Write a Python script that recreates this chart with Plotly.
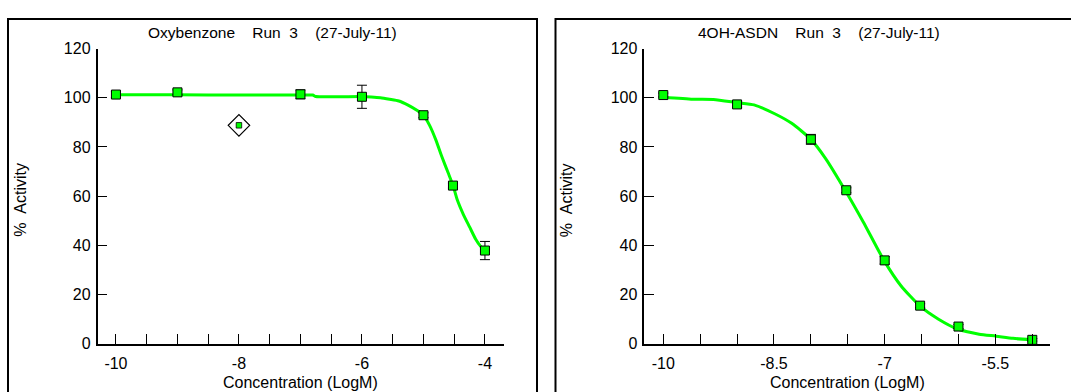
import plotly.graph_objects as go

# ---- Oxybenzone, Run 3 ----
oxy_x = [-10, -9, -7, -6, -5, -4.52, -4]
oxy_y = [101.3, 102.2, 101.4, 100.4, 92.9, 64.3, 37.9]
oxy_err = [1.2, 1.0, 1.8, 4.7, 1.0, 1.0, 3.7]
oxy_excl_x = [-8]
oxy_excl_y = [88.8]
oxy_fit_x = [-10, -9, -8, -7, -6.8, -6.75, -6.0, -5.85, -5.7, -5.55, -5.4, -5.25,
             -5.1, -5.0, -4.9, -4.8, -4.7, -4.6, -4.52, -4.45, -4.35, -4.25,
             -4.15, -4.07, -4.0]
oxy_fit_y = [101.2, 101.2, 101.1, 101.1, 101.1, 100.5, 100.5, 100.3, 100.0, 99.4,
             98.7, 97.0, 94.8, 92.9, 88.8, 83.0, 76.0, 69.6, 64.4, 58.5, 52.5,
             47.5, 42.5, 39.6, 38.0]
oxy_tickvals = [-10, -9.5, -9, -8.5, -8, -7.5, -7, -6.5, -6, -5.5, -5, -4.5, -4]
oxy_ticktext = ["-10", "", "", "", "-8", "", "", "", "-6", "", "", "", "-4"]

# ---- 4OH-ASDN, Run 3 ----
asdn_x = [-10, -9, -8, -7.52, -7, -6.52, -6, -5]
asdn_y = [101.1, 97.3, 83.1, 62.4, 33.9, 15.5, 7.0, 1.6]
asdn_err = [0.8, 1.2, 2.0, 1.0, 1.5, 0.8, 0.8, 0.5]
asdn_fit_x = [-10, -9.6, -9.32, -9.0, -8.77, -8.49, -8.26, -8.0, -7.8, -7.52,
              -7.29, -7.01, -6.78, -6.52, -6.27, -6.02, -5.72, -5.49, -5.26, -5.0]
asdn_fit_y = [100.2, 99.4, 99.3, 98.0, 97.1, 93.5, 89.6, 83.1, 75.3, 61.6, 49.5,
              33.9, 23.6, 15.3, 10.0, 6.1, 3.9, 3.1, 2.2, 1.6]
asdn_tickvals = [-10, -9.5, -9, -8.5, -8, -7.5, -7, -6.5, -6, -5.5, -5]
asdn_ticktext = ["-10", "", "", "-8.5", "", "", "-7", "", "", "-5.5", ""]

y_tickvals = [0, 20, 40, 60, 80, 100, 120]

W, H = 1071, 392
FONT = "Liberation Sans, Arial, sans-serif"
GREEN = "#00FF00"


def px(x):
    return x / W


def py(y):
    return 1 - y / H


fig = go.Figure()


def add_panel(xa, ya, fit_x, fit_y, x, y, err):
    fig.add_trace(go.Scatter(x=fit_x, y=fit_y, mode="lines", xaxis=xa, yaxis=ya,
                             line=dict(color=GREEN, width=3, shape="spline",
                                       smoothing=0.6),
                             hoverinfo="skip", showlegend=False))
    fig.add_trace(go.Scatter(x=x, y=y, mode="markers", xaxis=xa, yaxis=ya,
                             error_y=dict(type="data", array=err, color="black",
                                          thickness=1, width=5),
                             marker=dict(symbol="square", size=9, color=GREEN,
                                         line=dict(color="black", width=1)),
                             cliponaxis=False, showlegend=False))


add_panel("x", "y", oxy_fit_x, oxy_fit_y, oxy_x, oxy_y, oxy_err)
# excluded point: small square inside an open diamond
fig.add_trace(go.Scatter(x=oxy_excl_x, y=oxy_excl_y, mode="markers",
                         marker=dict(symbol="diamond-open", size=16.5, color="black",
                                     line=dict(color="black", width=1.2)),
                         showlegend=False))
fig.add_trace(go.Scatter(x=oxy_excl_x, y=oxy_excl_y, mode="markers",
                         marker=dict(symbol="square", size=5.5, color=GREEN,
                                     line=dict(color="black", width=0.8)),
                         showlegend=False))
add_panel("x2", "y2", asdn_fit_x, asdn_fit_y, asdn_x, asdn_y, asdn_err)

ydom = [py(351), py(42.4)]
axis_common = dict(showline=True, linecolor="black", linewidth=1.5,
                   ticks="inside", ticklen=10, tickwidth=1.2, tickcolor="black",
                   showgrid=False, zeroline=False, mirror=False,
                   tickfont=dict(family=FONT, size=16, color="black"))

fig.update_layout(
    width=W, height=H, margin=dict(l=0, r=0, t=0, b=0), autosize=False,
    paper_bgcolor="white", plot_bgcolor="white",
    xaxis=dict(domain=[px(97.5), px(504)], range=[-10.30, -3.69], anchor="y",
               tickmode="array", tickvals=oxy_tickvals, ticktext=oxy_ticktext,
               ticklabelstandoff=4, **axis_common),
    yaxis=dict(domain=ydom, range=[0, 120], anchor="x", tickmode="array",
               tickvals=y_tickvals, ticklabelstandoff=2, **axis_common),
    xaxis2=dict(domain=[px(644.3), px(1050)], range=[-10.257, -4.76], anchor="y2",
                tickmode="array", tickvals=asdn_tickvals, ticktext=asdn_ticktext,
                ticklabelstandoff=4, **axis_common),
    yaxis2=dict(domain=ydom, range=[0, 120], anchor="x2", tickmode="array",
                tickvals=y_tickvals, ticklabelstandoff=2, **axis_common),
)

# panel frames
fig.add_shape(type="rect", xref="paper", yref="paper",
              x0=px(8), x1=px(537), y0=-0.1, y1=py(11.5),
              line=dict(color="black", width=2))
fig.add_shape(type="rect", xref="paper", yref="paper",
              x0=px(555.5), x1=px(1084), y0=-0.1, y1=py(11.5),
              line=dict(color="black", width=2))

sp = "\u00a0"
labels = [
    (272.5, 25.5, f"Oxybenzone{sp*4}Run{sp*2}3{sp*4}(27-July-11)", 0, 15.5, "middle"),
    (819.5, 25.5, f"4OH-ASDN{sp*4}Run{sp*2}3{sp*4}(27-July-11)", 0, 15.5, "middle"),
    (20.5, 201, f"%{sp*2}Activity", -90, 16, "middle"),
    (566, 201, f"%{sp*2}Activity", -90, 16, "middle"),
    (300.7, 380, "Concentration (LogM)", 0, 16, "top"),
    (847, 380, "Concentration (LogM)", 0, 16, "top"),
]
for x, y, t, ang, fs, ya in labels:
    fig.add_annotation(x=px(x), y=py(y), xref="paper", yref="paper", text=t,
                       showarrow=False, xanchor="center", yanchor=ya,
                       textangle=ang, font=dict(family=FONT, size=fs, color="black"))

fig.write_html("out.html")
